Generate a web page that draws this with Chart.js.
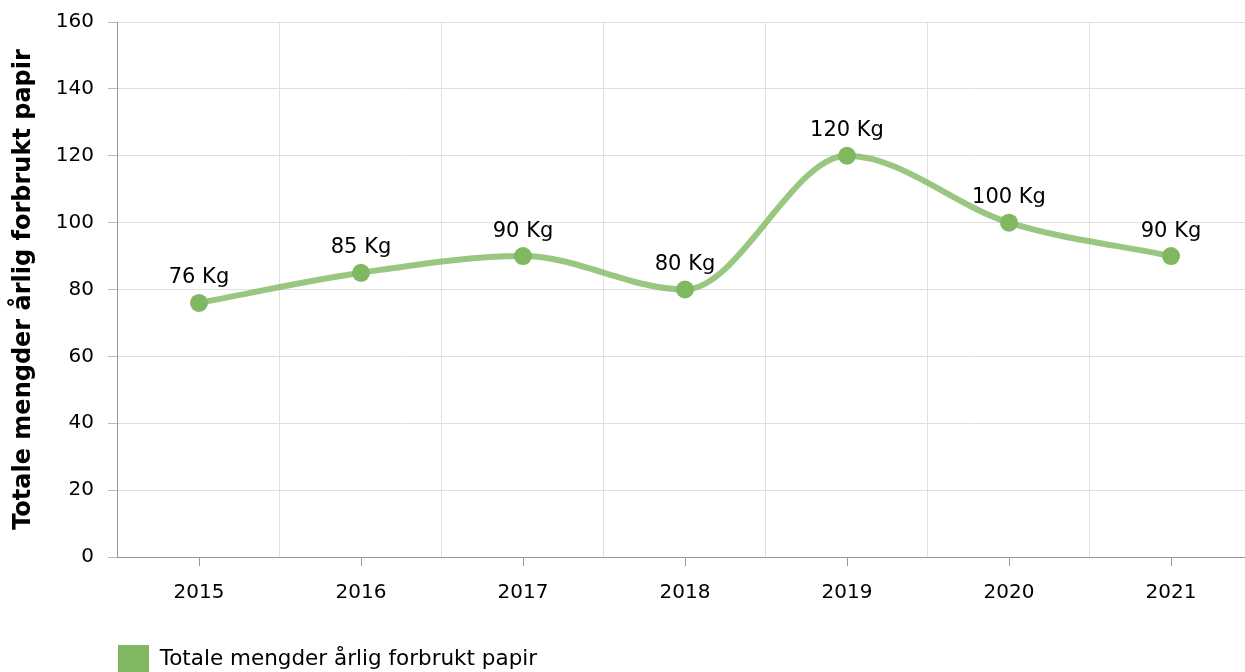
<!DOCTYPE html>
<html lang="no">
<head>
    <meta charset="UTF-8">
    <title>Totale mengder årlig forbrukt papir</title>
    <script src="https://cdn.jsdelivr.net/npm/chart.js"></script>
    <style>
        html, body {
            margin: 0;
            padding: 0;
            background: #fff;
            overflow: hidden;
        }
        .wrap {
            width: 1261px;
            height: 683px;
        }
    </style>
</head>
<body>
    <div class="wrap">
        <canvas id="paperChart"></canvas>
    </div>

    <script>
        // Data
        const years = ['2015', '2016', '2017', '2018', '2019', '2020', '2021'];
        const paperKg = [76, 85, 90, 80, 120, 100, 90];
        const seriesName = 'Totale mengder årlig forbrukt papir';
        const unit = 'Kg';

        const green = '#80b862';
        const lineGreen = 'rgba(128, 184, 98, 0.8)';
        const fontFamily = '"DejaVu Sans", Verdana, sans-serif';

        // Draws "76 Kg" etc. above every point
        const valueLabels = {
            id: 'valueLabels',
            afterDatasetsDraw(chart) {
                const ctx = chart.ctx;
                const meta = chart.getDatasetMeta(0);
                ctx.save();
                ctx.font = '21px ' + fontFamily;
                ctx.fillStyle = '#000';
                ctx.textAlign = 'center';
                ctx.textBaseline = 'middle';
                meta.data.forEach((pt, i) => {
                    ctx.fillText(paperKg[i] + ' ' + unit, pt.x, pt.y - 25);
                });
                ctx.restore();
            }
        };

        // Small tick marks under the x axis, at the category centres
        const xTickMarks = {
            id: 'xTickMarks',
            afterDraw(chart) {
                const ctx = chart.ctx;
                const x = chart.scales.x;
                ctx.save();
                ctx.strokeStyle = '#999';
                ctx.lineWidth = 1;
                years.forEach((y, i) => {
                    const px = Math.round(x.getPixelForValue(i)) + 0.5;
                    ctx.beginPath();
                    ctx.moveTo(px, x.top);
                    ctx.lineTo(px, x.top + 9);
                    ctx.stroke();
                });
                ctx.restore();
            }
        };

        const ctx = document.getElementById('paperChart').getContext('2d');
        new Chart(ctx, {
            type: 'line',
            data: {
                labels: years,
                datasets: [{
                    label: seriesName,
                    data: paperKg,
                    borderColor: lineGreen,
                    backgroundColor: green,
                    borderWidth: 6,
                    cubicInterpolationMode: 'monotone',
                    pointRadius: 9,
                    pointHoverRadius: 9,
                    pointBorderWidth: 0,
                    pointBackgroundColor: green,
                    fill: false
                }]
            },
            options: {
                responsive: true,
                maintainAspectRatio: false,
                animation: false,
                layout: {
                    padding: { top: 22, left: 9, right: 0, bottom: 0 }
                },
                scales: {
                    x: {
                        offset: true,
                        grid: {
                            offset: true,
                            color: '#e0e0e0',
                            drawTicks: false
                        },
                        border: { color: '#999', width: 1 },
                        ticks: {
                            padding: 24,
                            color: '#000',
                            font: { family: fontFamily, size: 20 }
                        },
                        // leave room between the year labels and the legend
                        afterFit(scale) {
                            scale.height += 16;
                        }
                    },
                    y: {
                        min: 0,
                        max: 160,
                        grid: {
                            color: '#e0e0e0',
                            tickColor: '#bbb',
                            tickLength: 10
                        },
                        border: { color: '#999', width: 1 },
                        ticks: {
                            stepSize: 20,
                            padding: 14,
                            color: '#000',
                            font: { family: fontFamily, size: 20, lineHeight: 0.8 }
                        },
                        title: {
                            display: true,
                            text: seriesName,
                            color: '#000',
                            padding: { top: 0, bottom: 4 },
                            font: { family: fontFamily, size: 24, weight: 'bold' }
                        }
                    }
                },
                plugins: {
                    legend: {
                        display: true,
                        position: 'bottom',
                        align: 'start',
                        fullSize: false,
                        labels: {
                            boxWidth: 31,
                            boxHeight: 28,
                            padding: 0,
                            color: '#000',
                            font: { family: fontFamily, size: 21.5 },
                            generateLabels(chart) {
                                return [{
                                    text: seriesName,
                                    fillStyle: green,
                                    strokeStyle: green,
                                    lineWidth: 0,
                                    fontColor: '#000',
                                    datasetIndex: 0,
                                    hidden: false
                                }];
                            }
                        }
                    },
                    tooltip: { enabled: false }
                }
            },
            plugins: [valueLabels, xTickMarks]
        });
    </script>
</body>
</html>
